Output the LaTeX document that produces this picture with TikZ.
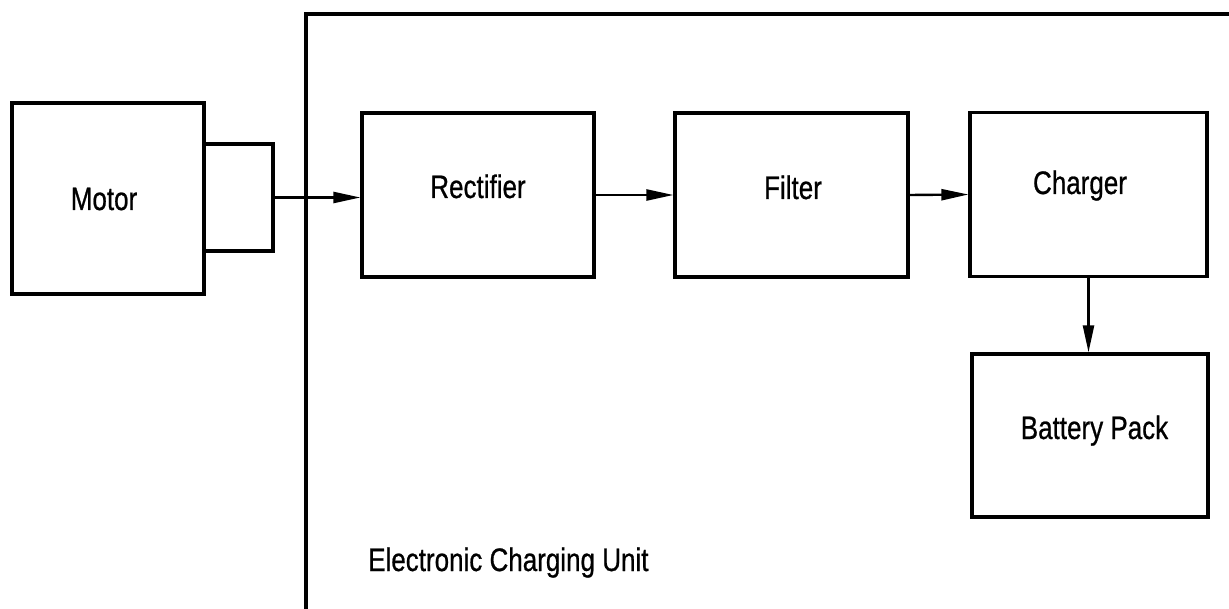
\documentclass[tikz,border=0pt]{standalone}
\usepackage{fontspec}
\setmainfont{Liberation Sans}
\newfontface\lblface{Liberation Sans}[FakeBold=0.8]
\usetikzlibrary{arrows.meta}
\newcommand{\tallt}[1]{\scalebox{1}[1.25]{#1}}
\begin{document}
\begin{tikzpicture}[x=1pt,y=-1pt,
  blockbox/.style={draw=black, line width=3.2pt, minimum width=#1, inner sep=0pt},
  lbl/.style={font=\lblface\fontsize{26}{30}\selectfont, inner sep=0pt, anchor=base},
  conn/.style={draw=black, line width=2.4pt, -{Triangle[length=27pt,width=11pt]}},
  frameline/.style={draw=black, line width=3.2pt}]
\useasboundingbox (0,0) rectangle (1229,609);
\fill[white] (0,0) rectangle (1229,609);
% frame of the charging unit
\coordinate (fb) at (306,609);
\coordinate (ft) at (306,14);
\coordinate (fr) at (1229,14);
\draw[frameline] (fb) -- (ft) -- (fr);
% boxes
\node[blockbox=192pt, minimum height=191pt] (motor) at (108,198.5) {};
\node[blockbox=69pt, minimum height=107pt] (shaft) at (238.5,197.5) {};
\node[blockbox=232pt, minimum height=164pt] (rect) at (478,195) {};
\node[blockbox=233pt, minimum height=164pt] (filt) at (791.5,195) {};
\node[blockbox=237pt, minimum height=164pt] (charg) at (1088.5,194.5) {};
\node[blockbox=236pt, minimum height=163pt] (batt) at (1090,435.5) {};
% labels
\node[lbl] (tmotor) at (104,210) {\tallt{Motor}};
\node[lbl] (trect) at (478,198) {\tallt{Rectifier}};
\node[lbl] (tfilt) at (793,199) {\tallt{Filter}};
\node[lbl] (tcharg) at (1080,194) {\tallt{Charger}};
\node[lbl] (tbatt) at (1094.5,439) {\tallt{Battery Pack}};
\node[lbl, anchor=base west] (tunit) at (368,571) {\tallt{Electronic Charging Unit}};
% connectors
\draw[conn] (shaft.east) -- (shaft.east -| rect.west);
\draw[conn] (rect.east) -- (filt.west);
\draw[conn] (filt.east) -- (charg.west);
\draw[conn] (charg.south) -- (batt.north -| charg.south);
\end{tikzpicture}
\end{document}
